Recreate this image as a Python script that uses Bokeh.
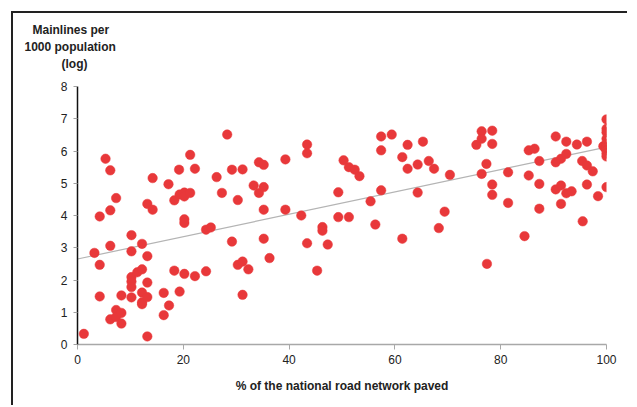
from bokeh.plotting import figure
from bokeh.models import Range1d, Title, FixedTicker, ColumnDataSource
from bokeh.embed import file_html
from bokeh.resources import INLINE

# % of national road network paved
paved = [1.2, 3.2, 4.2, 4.2, 4.2, 5.3, 6.2, 6.2, 6.2, 6.2, 7.3, 7.3, 7.3, 8.3, 8.3, 8.3,
         10.2, 10.2, 10.2, 10.2, 10.2, 10.2, 11.3, 12.2, 12.2, 12.2, 12.2, 12.2,
         13.2, 13.2, 13.2, 13.2, 13.2, 14.2, 14.2, 16.3, 16.3, 17.2, 17.3, 18.3, 18.3,
         19.2, 19.3, 19.3, 20.2, 20.2, 20.2, 20.2, 20.2, 21.3, 21.3, 22.2, 22.2,
         24.3, 24.3, 25.2, 26.3, 27.3, 28.3, 29.2, 29.2, 30.3, 30.3, 31.2, 31.2, 31.2,
         32.3, 33.3, 34.3, 34.3, 35.2, 35.2, 35.2, 35.2, 36.3, 39.3, 39.3, 42.3,
         43.4, 43.4, 43.4, 45.3, 46.3, 46.3, 47.3, 49.3, 49.3, 50.3, 51.3, 51.3,
         52.4, 53.3, 55.4, 56.3, 57.4, 57.4, 57.4, 59.4, 61.4, 61.4, 62.4, 62.4,
         64.3, 64.3, 65.3, 66.4, 67.4, 68.3, 69.4, 70.4, 75.4, 76.4, 76.4, 76.4,
         77.3, 77.4, 78.4, 78.4, 78.4, 78.4, 81.4, 81.4, 84.5, 85.3, 85.3, 86.4,
         87.3, 87.3, 87.3, 90.4, 90.4, 90.4, 91.4, 91.4, 91.4, 92.4, 92.4, 92.4,
         93.4, 94.4, 95.4, 95.5, 96.3, 96.3, 96.3, 97.4, 98.4, 99.4, 99.8,
         100, 100, 100, 100, 100, 100, 100, 100, 100, 100]

# Mainlines per 1000 population (log)
mainlines = [0.33, 2.84, 2.47, 1.49, 3.97, 5.76, 5.40, 4.16, 3.06, 0.78, 4.54, 1.07, 0.85, 1.52, 0.98, 0.65,
             3.39, 2.89, 2.09, 1.95, 1.78, 1.46, 2.24, 2.33, 3.12, 1.61, 1.31, 1.25,
             4.36, 2.74, 1.92, 1.47, 0.25, 5.16, 4.18, 1.60, 0.91, 4.97, 1.21, 4.47, 2.29,
             5.42, 4.65, 1.64, 4.71, 4.59, 3.88, 3.77, 2.19, 5.88, 4.70, 5.45, 2.12,
             3.56, 2.27, 3.63, 5.19, 4.70, 6.51, 5.42, 3.19, 4.48, 2.47, 5.43, 2.57, 1.54,
             2.33, 4.93, 5.65, 4.70, 5.57, 4.88, 4.18, 3.28, 2.68, 5.74, 4.18, 4.00,
             6.20, 5.93, 3.14, 2.29, 3.64, 3.53, 3.10, 4.72, 3.95, 5.71, 5.50, 3.95,
             5.42, 5.22, 4.44, 3.72, 6.45, 6.02, 4.78, 6.51, 5.81, 3.28, 6.19, 5.45,
             5.58, 4.71, 6.29, 5.69, 5.45, 3.61, 4.12, 5.26, 6.19, 6.61, 6.38, 5.29,
             5.60, 2.50, 6.63, 6.22, 4.96, 4.64, 5.34, 4.39, 3.36, 6.02, 5.24, 6.07,
             5.69, 4.98, 4.21, 6.45, 5.65, 4.81, 5.76, 4.93, 4.36, 6.29, 5.91, 4.69,
             4.75, 6.20, 5.69, 3.82, 6.29, 5.55, 4.96, 5.37, 4.60, 6.15, 6.08,
             6.98, 6.69, 6.58, 6.38, 6.22, 6.12, 6.02, 5.92, 5.83, 4.88]

# trend line
trend_x = [0, 100]
trend_y = [2.65, 6.12]

x_ticks = [0, 20, 40, 60, 80, 100]
y_ticks = [0, 1, 2, 3, 4, 5, 6, 7, 8]

# y-axis title lines, listed from the one nearest the plot upwards
y_title_lines = ["(log)", "1000 population", "Mainlines per"]
y_title_offsets = [-16, -53, -45]
y_title_standoffs = [0, 2, 0]
x_title = "% of the national road network paved"

FONT = "Liberation Sans"

p = figure(width=616, height=394, output_backend="svg", toolbar_location=None,
           x_range=Range1d(0, 100), y_range=Range1d(0, 8),
           min_border_left=64, min_border_right=23, min_border_top=73, min_border_bottom=63)
p.margin = (11, 0, 0, 11)
p.styles = {"border-left": "2px solid #222222", "border-top": "2px solid #222222"}
p.outline_line_color = None
p.xgrid.visible = False
p.ygrid.visible = False
p.background_fill_color = "white"
p.border_fill_color = "white"

# trend line
p.line(trend_x, trend_y, line_color="#b4b4b4", line_width=1.2)

src = ColumnDataSource(dict(x=paved, y=mainlines))
p.scatter("x", "y", source=src, marker="circle", size=9.5,
          fill_color="#e8383a", line_color="#e8383a", line_width=0.5)

# axes
xa = p.xaxis[0]
xa.ticker = FixedTicker(ticks=x_ticks)
xa.minor_tick_line_color = None
xa.axis_line_color = "#a8a8a8"
xa.axis_line_width = 1.5
xa.major_tick_line_color = "#a8a8a8"
xa.major_tick_out = 5
xa.major_tick_in = 0
xa.major_label_text_font = FONT
xa.major_label_text_font_size = "12px"
xa.major_label_text_color = "#222222"
xa.major_label_standoff = 5
xa.axis_label = x_title
xa.axis_label_text_font = FONT
xa.axis_label_text_font_style = "bold"
xa.axis_label_text_font_size = "12px"
xa.axis_label_text_color = "#222222"
xa.axis_label_standoff = 12

ya = p.yaxis[0]
ya.ticker = FixedTicker(ticks=y_ticks)
ya.minor_tick_line_color = None
ya.axis_line_color = "#111111"
ya.axis_line_width = 1.5
ya.major_tick_line_color = "#a0a0a0"
ya.major_tick_out = 4
ya.major_tick_in = 0
ya.major_label_text_font = FONT
ya.major_label_text_font_size = "12px"
ya.major_label_text_color = "#222222"
ya.major_label_standoff = 6

# spacer between the plot frame and the stacked y-axis title
p.add_layout(Title(text=" ", text_font=FONT, text_font_size="12px", standoff=0), "above")

# y-axis title, horizontal, above the axis (stacked titles)
for txt, off, so in zip(y_title_lines, y_title_offsets, y_title_standoffs):
    t = Title(text=txt, align="left", offset=off, text_font=FONT, text_font_style="bold",
              text_font_size="12px", text_color="#222222", standoff=so)
    p.add_layout(t, "above")

open("out.html", "w").write(file_html(p, INLINE))
